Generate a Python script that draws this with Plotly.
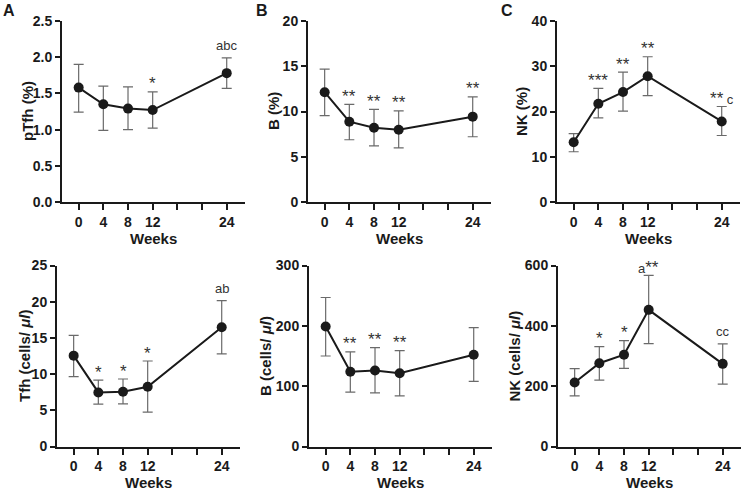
import plotly.graph_objects as go

# ---------------- data ----------------
weeks = [0, 4, 8, 12, 24]
tick_vals = [0, 4, 8, 12, 16, 20, 24]
tick_text = ["0", "4", "8", "12", "", "", "24"]

ptfh_pct_mean = [1.58, 1.35, 1.29, 1.27, 1.78]
ptfh_pct_upper = [1.90, 1.60, 1.59, 1.52, 1.99]
ptfh_pct_lower = [1.24, 0.99, 1.00, 1.02, 1.57]
ptfh_pct_sig = ["", "", "", "*", "abc"]

b_pct_mean = [12.13, 8.87, 8.21, 7.99, 9.43]
b_pct_upper = [14.68, 10.79, 10.24, 10.06, 11.61]
b_pct_lower = [9.54, 6.88, 6.21, 5.99, 7.21]
b_pct_sig = ["", "**", "**", "**", "**"]

nk_pct_mean = [13.2, 21.7, 24.3, 27.8, 17.8]
nk_pct_upper = [15.1, 25.1, 28.7, 32.1, 21.1]
nk_pct_lower = [11.1, 18.6, 20.1, 23.5, 14.7]
nk_pct_sig = ["", "***", "**", "**", "** c"]

tfh_cnt_mean = [12.55, 7.47, 7.56, 8.26, 16.47]
tfh_cnt_upper = [15.36, 9.18, 9.32, 11.81, 20.16]
tfh_cnt_lower = [9.64, 5.86, 5.90, 4.75, 12.78]
tfh_cnt_sig = ["", "*", "*", "*", "ab"]

b_cnt_mean = [199, 124, 126, 121.5, 152]
b_cnt_upper = [247, 157, 164, 159, 197]
b_cnt_lower = [150, 90, 89, 84, 108]
b_cnt_sig = ["", "**", "**", "**", ""]

nk_cnt_mean = [212, 276, 304, 453, 274]
nk_cnt_upper = [258, 331, 351, 567, 340]
nk_cnt_lower = [168, 220, 259, 341, 207]
nk_cnt_sig = ["", "*", "*", "a**", "cc"]

y_titles = ["pTfh (%)", "B (%)", "NK (%)",
            "Tfh (cells/ <i>μl</i>)", "B (cells/ <i>μl</i>)", "NK (cells/ <i>μl</i>)"]
panel_letters = ["A", "B", "C"]
x_title = "Weeks"

# ---------------- layout geometry (pixels) ----------------
W, H = 741, 490
FONT = "Liberation Sans, Arial, Helvetica, sans-serif"
INK = "#1a1a1a"
ERR = "#6a6a6a"
XR = [-2.7, 26.9]
PW = 182.6

panels = [
    dict(mean=ptfh_pct_mean, up=ptfh_pct_upper, lo=ptfh_pct_lower, sig=ptfh_pct_sig,
         yr=[0, 2.5], dt=0.5, dec=1, x0=62, top=21, bot=202, ytx=27.5, wy=238),
    dict(mean=b_pct_mean, up=b_pct_upper, lo=b_pct_lower, sig=b_pct_sig,
         yr=[0, 20], dt=5, dec=0, x0=308, top=21, bot=202, ytx=273.5, wy=238),
    dict(mean=nk_pct_mean, up=nk_pct_upper, lo=nk_pct_lower, sig=nk_pct_sig,
         yr=[0, 40], dt=10, dec=0, x0=557, top=21, bot=202, ytx=521.5, wy=238),
    dict(mean=tfh_cnt_mean, up=tfh_cnt_upper, lo=tfh_cnt_lower, sig=tfh_cnt_sig,
         yr=[0, 25], dt=5, dec=0, x0=57, top=265.5, bot=446.5, ytx=24, wy=482),
    dict(mean=b_cnt_mean, up=b_cnt_upper, lo=b_cnt_lower, sig=b_cnt_sig,
         yr=[0, 300], dt=100, dec=0, x0=309, top=265.5, bot=446.5, ytx=265, wy=482),
    dict(mean=nk_cnt_mean, up=nk_cnt_upper, lo=nk_cnt_lower, sig=nk_cnt_sig,
         yr=[0, 600], dt=200, dec=0, x0=558, top=265.5, bot=446.5, ytx=513.5, wy=482),
]

fig = go.Figure()
annotations = []
layout = dict(
    width=W, height=H, autosize=False,
    margin=dict(l=0, r=0, t=0, b=0, pad=0),
    paper_bgcolor="white", plot_bgcolor="white",
    showlegend=False,
    font=dict(family=FONT, color=INK),
)


def sig_html(s):
    out = ""
    for ch in s:
        if ch == "*":
            out += '<span style="font-size:17px">*</span>'
        else:
            out += ch
    return out


for i, p in enumerate(panels):
    n = i + 1
    xa = "x" if n == 1 else f"x{n}"
    ya = "y" if n == 1 else f"y{n}"
    err_plus = [u - m for u, m in zip(p["up"], p["mean"])]
    err_minus = [m - l for m, l in zip(p["mean"], p["lo"])]
    fig.add_trace(go.Scatter(
        x=weeks, y=p["mean"], mode="lines+markers",
        line=dict(color=INK, width=2),
        marker=dict(color=INK, size=10),
        error_y=dict(type="data", symmetric=False, array=err_plus, arrayminus=err_minus,
                     color=ERR, thickness=1.2, width=5),
        xaxis=xa, yaxis=ya, cliponaxis=False,
    ))
    axis_common = dict(
        showline=True, linecolor=INK, linewidth=2, showgrid=False, zeroline=False,
        ticks="outside", tickwidth=2, tickcolor=INK, automargin=False,
        tickfont=dict(family=FONT, size=14, color=INK),
        fixedrange=True,
    )
    nticks = int(round((p["yr"][1] - p["yr"][0]) / p["dt"])) + 1
    yvals = [p["yr"][0] + k * p["dt"] for k in range(nticks)]
    ytext = [f"<b>{v:.{p['dec']}f}</b>" for v in yvals]
    layout["xaxis" if n == 1 else f"xaxis{n}"] = dict(
        axis_common, range=XR, tickmode="array", tickvals=tick_vals,
        ticktext=[f"<b>{t}</b>" if t else "" for t in tick_text],
        ticklen=6, anchor=ya,
        domain=[p["x0"] / W, (p["x0"] + PW) / W],
    )
    layout["yaxis" if n == 1 else f"yaxis{n}"] = dict(
        axis_common, range=p["yr"], tickmode="array", tickvals=yvals, ticktext=ytext,
        ticklen=5, anchor=xa,
        domain=[1 - p["bot"] / H, 1 - p["top"] / H],
    )
    # significance labels
    for wk, up, s in zip(weeks, p["up"], p["sig"]):
        if not s:
            continue
        annotations.append(dict(
            x=wk, y=up, xref=xa, yref=ya, text=sig_html(s), showarrow=False,
            xanchor="center", yanchor="middle",
            yshift=(12 if s.replace(" ", "").isalpha() else 8),
            font=dict(family=FONT, size=13, color="#333333"),
        ))
    # x title
    annotations.append(dict(
        x=(p["x0"] + PW / 2) / W, y=1 - p["wy"] / H, xref="paper", yref="paper",
        text=f"<b>{x_title}</b>", showarrow=False, xanchor="center", yanchor="middle",
        font=dict(family=FONT, size=15, color=INK),
    ))
    # y title
    annotations.append(dict(
        x=p["ytx"] / W, y=1 - (p["top"] + p["bot"]) / 2 / H, xref="paper", yref="paper",
        text=f"<b>{y_titles[i]}</b>", showarrow=False, textangle=-90,
        xanchor="center", yanchor="middle",
        font=dict(family=FONT, size=15, color=INK),
    ))

# panel letters
for letter, (lx, ly) in zip(panel_letters, [(9, 10), (261.5, 10), (507, 10)]):
    annotations.append(dict(
        x=lx / W, y=1 - ly / H, xref="paper", yref="paper", text=f"<b>{letter}</b>",
        showarrow=False, xanchor="center", yanchor="middle",
        font=dict(family=FONT, size=16, color=INK),
    ))

layout["annotations"] = annotations
fig.update_layout(**layout)
fig.write_html(
    "out.html",
    config={"displayModeBar": False, "responsive": False},
    post_script="document.body.style.margin='0';document.body.style.overflow='hidden';",
)
